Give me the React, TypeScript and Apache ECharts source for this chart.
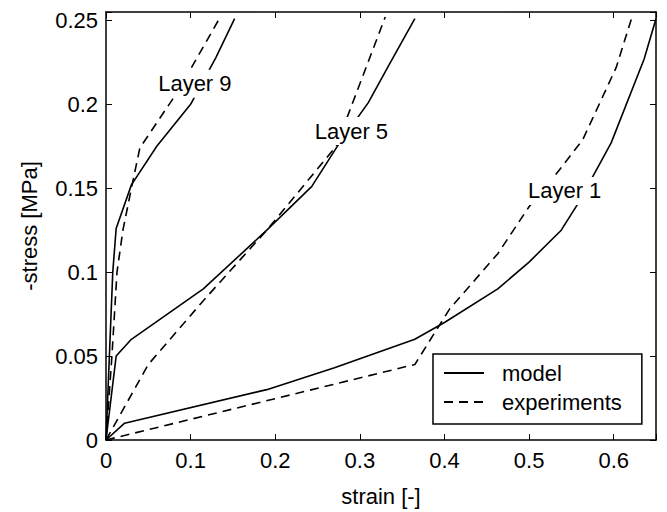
import React, { useEffect, useRef } from "react";
import * as echarts from "echarts";

// strain [-] vs. compressive stress [MPa] for three layers
const layer9Model: [number, number][] = [
  [0, 0], [0.004, 0.05], [0.008, 0.1], [0.012, 0.126], [0.03, 0.152],
  [0.06, 0.175], [0.1, 0.2], [0.13, 0.228], [0.152, 0.251],
];
const layer9Exp: [number, number][] = [
  [0, 0], [0.007, 0.05], [0.013, 0.1], [0.02, 0.125], [0.03, 0.15],
  [0.04, 0.174], [0.08, 0.204], [0.1, 0.221], [0.135, 0.252],
];
const layer5Model: [number, number][] = [
  [0, 0], [0.012, 0.05], [0.03, 0.06], [0.115, 0.09], [0.19, 0.125],
  [0.243, 0.151], [0.276, 0.177], [0.31, 0.201], [0.335, 0.224], [0.365, 0.251],
];
const layer5Exp: [number, number][] = [
  [0, 0], [0.05, 0.045], [0.115, 0.083], [0.19, 0.125], [0.272, 0.175], [0.33, 0.252],
];
const layer1Model: [number, number][] = [
  [0, 0], [0.022, 0.01], [0.19, 0.03], [0.27, 0.043], [0.365, 0.06],
  [0.4, 0.07], [0.463, 0.09], [0.5, 0.106], [0.538, 0.125], [0.558, 0.141],
  [0.597, 0.177], [0.636, 0.227], [0.65, 0.251],
];
const layer1Exp: [number, number][] = [
  [0, 0], [0.365, 0.045], [0.406, 0.078], [0.463, 0.111], [0.5, 0.139],
  [0.536, 0.161], [0.5635, 0.179], [0.603, 0.222], [0.621, 0.251],
];

const layerNames = ["Layer 9", "Layer 5", "Layer 1"];
const layerLabelAt: [number, number][] = [[0.105, 0.2123], [0.29, 0.1841], [0.542, 0.1484]];

const xTicks = [0, 0.1, 0.2, 0.3, 0.4, 0.5, 0.6];
const xTickLabels = ["0", "0.1", "0.2", "0.3", "0.4", "0.5", "0.6"];
const yTicks = [0, 0.05, 0.1, 0.15, 0.2, 0.25];
const yTickLabels = ["0", "0.05", "0.1", "0.15", "0.2", "0.25"];

const FONT = "Liberation Sans, Arial, Helvetica, sans-serif";
const INK = "#000";

function tickFormatter(ticks: number[], labels: string[]) {
  return (v: number) => {
    const i = ticks.findIndex((t) => Math.abs(t - v) < 1e-9);
    return i >= 0 ? labels[i] : "";
  };
}

export default function App() {
  const ref = useRef<HTMLDivElement>(null);

  useEffect(() => {
    document.body.style.margin = "0";
    if (!ref.current) return;
    const chart = echarts.init(ref.current, undefined, { renderer: "svg" });

    const xBase = { type: "value" as const, min: 0, max: 0.65, interval: 0.1 };
    const yBase = { type: "value" as const, min: 0, max: 0.255, interval: 0.05 };
    const axisLine = { show: true, onZero: false, lineStyle: { color: INK, width: 1.5 } };
    const axisTick = { show: true, inside: true, length: 6, lineStyle: { color: INK, width: 1 } };

    const solid = { color: INK, width: 1.6, type: "solid" as const };
    const dashed = { color: INK, width: 1.6, type: [9, 6] as number[] };

    const line = (name: string, data: [number, number][], style: any) => ({
      type: "line" as const,
      name,
      data,
      symbol: "none",
      showSymbol: false,
      lineStyle: style,
      itemStyle: { color: INK },
      clip: true,
      z: 2,
    });

    chart.setOption({
      animation: false,
      backgroundColor: "#fff",
      textStyle: { fontFamily: FONT, color: INK },
      grid: { left: 106, right: 11, top: 12, bottom: 72, containLabel: false },
      xAxis: [
        {
          ...xBase,
          position: "bottom",
          name: "strain [-]",
          nameLocation: "middle",
          nameGap: 45,
          nameTextStyle: { fontSize: 22, color: INK, fontFamily: FONT },
          axisLine,
          axisTick,
          splitLine: { show: false },
          axisLabel: {
            fontSize: 22,
            color: INK,
            fontFamily: FONT,
            margin: 9,
            formatter: tickFormatter(xTicks, xTickLabels),
          },
        },
        {
          ...xBase,
          position: "top",
          axisLine,
          axisTick,
          splitLine: { show: false },
          axisLabel: { show: false },
        },
      ],
      yAxis: [
        {
          ...yBase,
          position: "left",
          name: "-stress [MPa]",
          nameLocation: "middle",
          nameGap: 66,
          nameTextStyle: { fontSize: 22, color: INK, fontFamily: FONT },
          axisLine,
          axisTick,
          splitLine: { show: false },
          axisLabel: {
            fontSize: 22,
            color: INK,
            fontFamily: FONT,
            margin: 8,
            formatter: tickFormatter(yTicks, yTickLabels),
          },
        },
        {
          ...yBase,
          position: "right",
          axisLine,
          axisTick,
          splitLine: { show: false },
          axisLabel: { show: false },
        },
      ],
      legend: {
        data: ["model", "experiments"],
        orient: "vertical",
        left: 433,
        top: 354,
        backgroundColor: "#fff",
        borderColor: INK,
        borderWidth: 1.5,
        borderRadius: 0,
        padding: [8, 20, 11, 10],
        itemWidth: 40,
        itemHeight: 14,
        itemGap: 7,
        selectedMode: false,
        itemStyle: { opacity: 0, color: "rgba(0,0,0,0)", borderWidth: 0 },
        textStyle: { fontSize: 22, color: INK, fontFamily: FONT, padding: [0, 0, 0, 13] },
      },
      series: [
        line("model", layer9Model, solid),
        line("experiments", layer9Exp, dashed),
        line("model", layer5Model, solid),
        line("experiments", layer5Exp, dashed),
        line("model", layer1Model, solid),
        line("experiments", layer1Exp, dashed),
        {
          type: "scatter",
          name: "layers",
          symbolSize: 0,
          z: 5,
          itemStyle: { opacity: 1, color: "rgba(0,0,0,0)" },
          data: layerLabelAt.map((p, i) => ({ value: p, name: layerNames[i] })),
          label: {
            show: true,
            position: "inside",
            formatter: (p: any) => p.name,
            fontSize: 22,
            color: INK,
            opacity: 1,
            fontFamily: FONT,
            backgroundColor: "#fff",
            padding: [3, 2, 3, 2],
          },
          emphasis: { disabled: true },
          silent: true,
        },
      ],
    });

    return () => chart.dispose();
  }, []);

  return <div ref={ref} style={{ width: 667, height: 512 }} />;
}
